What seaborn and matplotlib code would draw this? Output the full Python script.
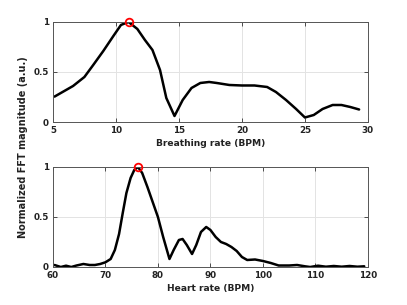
import numpy as np
import pandas as pd
import matplotlib
matplotlib.use("Agg")
import matplotlib.pyplot as plt
import seaborn as sns

# breathing spectrum (top panel)
breath_bpm = [5.13, 6.6, 7.5, 8.2, 9.0, 9.8, 10.4, 11.0, 11.7, 12.3, 12.9, 13.5, 14.0,
              14.65, 15.3, 16.0, 16.7, 17.4, 18.0, 19.0, 20.0, 21.0, 22.0, 22.7, 23.5,
              24.3, 25.0, 25.7, 26.4, 27.2, 27.9, 28.6, 29.3]
breath_mag = [0.254, 0.36, 0.45, 0.57, 0.71, 0.86, 0.97, 1.0, 0.93, 0.82, 0.72, 0.52, 0.24,
              0.06, 0.22, 0.34, 0.39, 0.40, 0.39, 0.37, 0.365, 0.365, 0.35, 0.30, 0.22,
              0.13, 0.045, 0.07, 0.13, 0.17, 0.17, 0.15, 0.125]
breath_peak = (11.0, 1.0)

# heart spectrum (bottom panel)
heart_bpm = [60.3, 61.5, 62.5, 63.5, 64.5, 65.8, 67, 68, 69, 70, 71, 71.8, 72.6, 73.3, 74,
             74.8, 75.5, 76.2, 77, 78, 79, 80, 81, 82.2, 83, 84, 84.7, 85.5, 86.5, 87.3,
             88.2, 89.2, 90, 91, 92, 93, 94, 95, 96, 97, 98.5, 100, 101.5, 103, 105,
             106.5, 108, 109, 110.5, 112, 113.5, 115, 116.5, 118, 119.3]
heart_mag = [0.02, 0.0, 0.013, 0.0, 0.015, 0.03, 0.02, 0.02, 0.03, 0.047, 0.08, 0.17, 0.33,
             0.54, 0.74, 0.89, 0.97, 1.0, 0.94, 0.80, 0.65, 0.50, 0.30, 0.08, 0.17, 0.27,
             0.28, 0.22, 0.13, 0.22, 0.35, 0.40, 0.37, 0.30, 0.25, 0.23, 0.20, 0.16, 0.10,
             0.07, 0.075, 0.06, 0.04, 0.015, 0.015, 0.02, 0.007, 0.0, 0.013, 0.003, 0.01,
             0.003, 0.01, 0.003, 0.007]
heart_peak = (76.2, 1.0)

sns.set_style("ticks")
plt.rcParams['font.family'] = ['DejaVu Sans']

fig = plt.figure(figsize=(4.07, 3.05), dpi=100)
ax1 = fig.add_axes([0.130, 0.600, 0.774, 0.328])
ax2 = fig.add_axes([0.130, 0.1246, 0.774, 0.328])

panels = [
    (ax1, breath_bpm, breath_mag, breath_peak, (5, 30), [5, 10, 15, 20, 25, 30], 'Breathing rate (BPM)'),
    (ax2, heart_bpm, heart_mag, heart_peak, (60, 120), [60, 70, 80, 90, 100, 110, 120], 'Heart rate (BPM)'),
]

for ax, xs, ys, peak, xlim, xt, xlabel in panels:
    df = pd.DataFrame({'x': xs, 'y': ys})
    sns.lineplot(data=df, x='x', y='y', ax=ax, color='black', linewidth=1.8)
    ax.plot([peak[0]], [peak[1]], 'o', mfc='none', mec='red', mew=1.3, ms=5.5, zorder=5, clip_on=False)
    ax.set_xlim(*xlim)
    ax.set_ylim(0, 1)
    ax.set_xticks(xt)
    ax.set_yticks([0, 0.5, 1])
    ax.set_yticklabels(['0', '0.5', '1'])
    ax.grid(True, color='#e3e3e3', linewidth=0.7)
    ax.set_axisbelow(True)
    ax.tick_params(direction='in', length=3, width=0.6, color='#333333', labelsize=6.3,
                   top=True, right=True, pad=3)
    for lab in ax.get_xticklabels() + ax.get_yticklabels():
        lab.set_fontweight('bold')
        lab.set_color('#222222')
    for sp in ax.spines.values():
        sp.set_color('#555555')
        sp.set_linewidth(0.7)
    ax.set_xlabel(xlabel, fontsize=6.6, fontweight='bold', color='#222222', labelpad=3)
    ax.set_ylabel('')

fig.text(0.057, 0.516, 'Normalized FFT magnitude (a.u.)', rotation=90, ha='center', va='center',
         fontsize=7.0, fontweight='bold', color='#222222')

fig.savefig('out.png', dpi=100)
